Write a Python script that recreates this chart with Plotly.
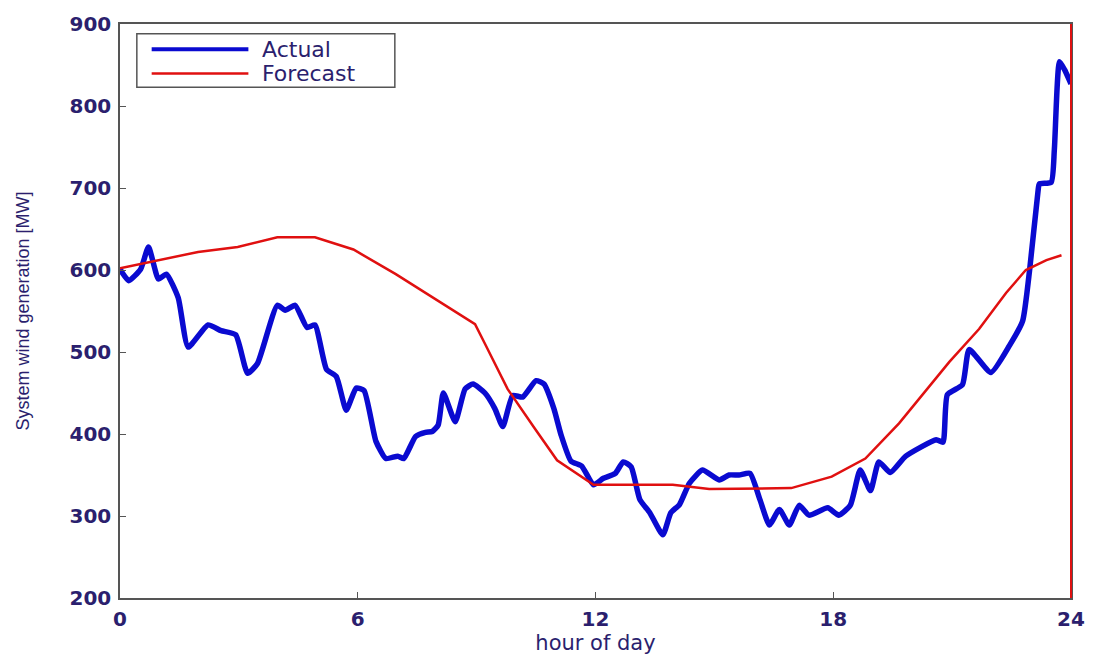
import plotly.graph_objects as go

# Actual system wind generation (hour of day, MW)
actual_hours = [0, 0.22, 0.52, 0.72, 0.97, 1.17, 1.47, 1.72, 2.22, 2.55, 2.92, 3.22, 3.47, 3.97, 4.17,
                4.42, 4.72, 4.92, 5.21, 5.46, 5.71, 5.96, 6.16, 6.46, 6.71, 7.01, 7.16, 7.46, 7.71, 7.88,
                8.03, 8.16, 8.46, 8.71, 8.91, 9.21, 9.46, 9.66, 9.91, 10.16, 10.5, 10.7, 10.95, 11.13,
                11.38, 11.65, 11.95, 12.2, 12.5, 12.7, 12.9, 13.12, 13.37, 13.7, 13.9, 14.12, 14.37, 14.7,
                15.12, 15.37, 15.62, 15.9, 16.15, 16.39, 16.64, 16.89, 17.14, 17.39, 17.86, 18.14, 18.43,
                18.68, 18.94, 19.15, 19.44, 19.83, 20.6, 20.77, 20.88, 21.26, 21.43, 21.98, 22.45, 22.78,
                22.96, 23.17, 23.2, 23.5, 23.58, 23.71, 23.84, 24.0]
actual_mw = [601, 587, 601, 628, 589, 595, 566, 506, 533, 526, 521, 474, 486, 557, 551,
             557, 530, 533, 479, 470, 429, 456, 453, 391, 370, 373, 370, 397, 402, 403,
             411, 450, 415, 455, 461, 450, 431, 409, 447, 445, 465, 461, 431, 399,
             367, 361, 338, 346, 352, 366, 360, 320, 304, 277, 304, 314, 340, 356,
             344, 350, 350, 352, 320, 289, 308, 289, 313, 301, 310, 301, 313,
             356, 331, 366, 353, 373, 393, 390, 448, 460, 503, 475, 508, 538,
             602, 697, 705, 707, 747, 854, 844, 827]

# Forecast
forecast_hours = [0, 0.8, 1.97, 2.97, 3.97, 4.92, 5.89, 6.96, 7.96, 8.96, 9.21, 9.78, 10.45, 11.03,
                  11.95, 13.95, 14.87, 16.94, 17.96, 18.81, 19.66, 20.25, 20.93, 21.68, 22.36, 22.86,
                  23.38, 23.76]
forecast_mw = [602, 610, 622, 628, 640, 640, 625, 595, 565, 534, 510, 455, 408, 368,
               338, 338, 333, 334, 348, 370, 413, 448, 488, 528, 572, 600, 612, 618]

series_names = ["Actual", "Forecast"]
x_ticks = [0, 6, 12, 18, 24]
y_ticks = [200, 300, 400, 500, 600, 700, 800, 900]

text_color = "#2b1f6e"
axis_color = "#555555"
blue = "#0a0ad0"
red = "#e01010"

fig = go.Figure()
fig.add_trace(go.Scatter(x=actual_hours, y=actual_mw, mode="lines", name=series_names[0],
                         showlegend=False,
                         line=dict(color=blue, width=5.5, shape="spline", smoothing=0.5)))
fig.add_trace(go.Scatter(x=forecast_hours, y=forecast_mw, mode="lines", name=series_names[1],
                         showlegend=False,
                         line=dict(color=red, width=2.5)))

axis_common = dict(showgrid=False, zeroline=False, showline=True, linecolor=axis_color, linewidth=1.5,
                   mirror=True, ticks="inside", ticklen=6, tickcolor=axis_color, tickwidth=1.2,
                   ticklabeloverflow="allow",
                   tickfont=dict(family="DejaVu Sans", size=20, color=text_color, weight="bold"))

fig.update_xaxes(range=[0, 24], tickvals=x_ticks, ticklabelstandoff=2, **axis_common,
                 title=dict(text="hour of day", standoff=3,
                            font=dict(family="DejaVu Sans", size=21, color=text_color)))
fig.update_yaxes(range=[200, 900], tickvals=y_ticks, ticklabelstandoff=3, **axis_common,
                 title=dict(text="System wind generation [MW]", standoff=35,
                            font=dict(family="Liberation Sans", size=18, color=text_color)))

# red right-hand border
fig.add_shape(type="line", xref="paper", yref="paper", x0=1, x1=1, y0=0, y1=1,
              line=dict(color=red, width=2))

# legend box (drawn manually for MATLAB-like proportions)
fig.add_shape(type="rect", xref="paper", yref="paper", x0=0.0177, x1=0.289, y0=0.8898, y1=0.983,
              line=dict(color=axis_color, width=1.5), fillcolor="white", layer="above")
fig.add_shape(type="line", xref="paper", yref="paper", x0=0.0333, x1=0.135, y0=0.956, y1=0.956,
              line=dict(color=blue, width=4), layer="above")
fig.add_shape(type="line", xref="paper", yref="paper", x0=0.0333, x1=0.135, y0=0.9136, y1=0.9136,
              line=dict(color=red, width=2.5), layer="above")
for name, yy in zip(series_names, [0.956, 0.9136]):
    fig.add_annotation(text=name, xref="paper", yref="paper", x=0.1476, y=yy, xanchor="left",
                       yanchor="middle", showarrow=False,
                       font=dict(family="DejaVu Sans", size=22, color=text_color))

fig.update_layout(
    width=1097, height=660,
    margin=dict(l=120, r=18, t=18, b=52),
    plot_bgcolor="white", paper_bgcolor="white",
)

fig.write_html("out.html", config={"displayModeBar": False},
               post_script="document.body.style.margin='0';")
